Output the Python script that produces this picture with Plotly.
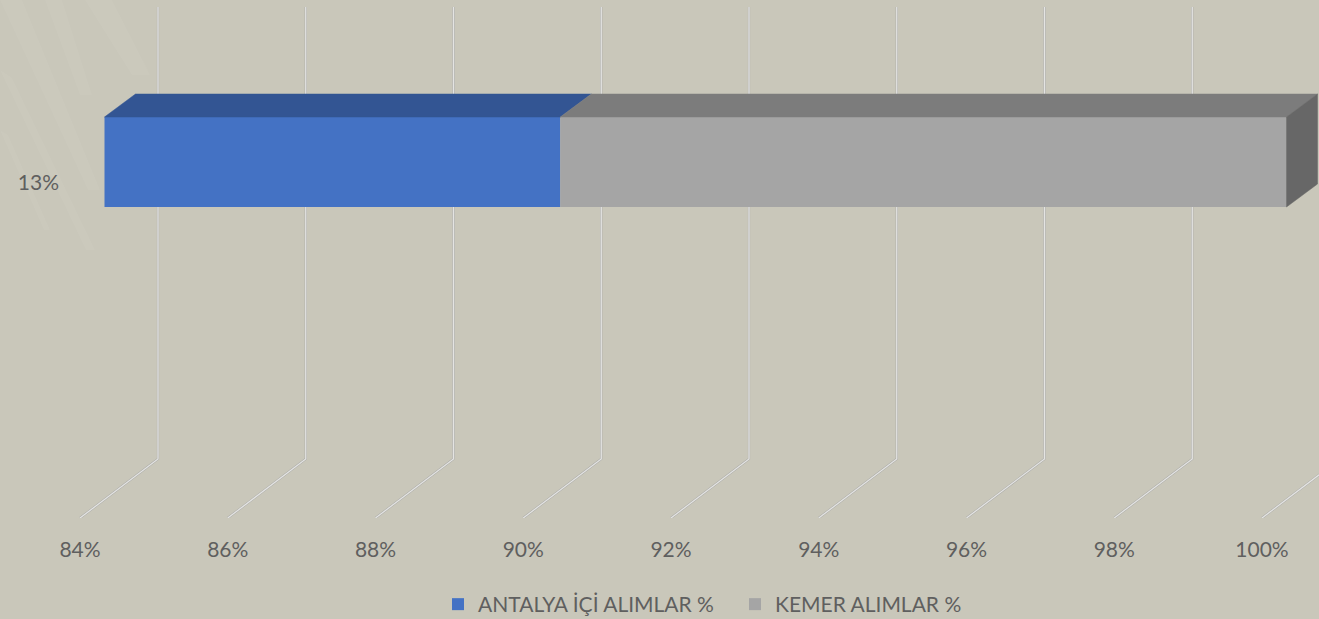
import plotly.graph_objects as go

categories = ["13%"]
series_names = ["ANTALYA İÇİ ALIMLAR %", "KEMER ALIMLAR %"]
antalya = [90.17]
kemer = [9.83]
tick_values = [84, 86, 88, 90, 92, 94, 96, 98, 100]
tick_labels = ["84%", "86%", "88%", "90%", "92%", "94%", "96%", "98%", "100%"]

W, H = 1319, 619
L, B = 60, 101
UNIT = 73.875
plot_w = W - L
plot_h = H - B
FONT = "Lato"
TEXT = "#5F5F5F"
SIZE = 21

range_main = [84 - 20 / UNIT, 84 + (W - 80) / UNIT]
range_bar = [84 - 44.5 / UNIT, 84 + (W - 104.5) / UNIT]
range_y = [-336, 182]

DEPTH_GRID_X, DEPTH_GRID_Y = 78 / UNIT, 59
GRID_TOP = 175
BAR_LOW, BAR_HIGH = -25, 65
DEPTH_BAR_X, DEPTH_BAR_Y = 31 / UNIT, 23
FLOOR = -336

fig = go.Figure()

for col, wid in (("#ABABA8", 2.2), ("#E4E4E2", 1.3)):
    gx, gy = [], []
    for v in tick_values:
        gx += [v + DEPTH_GRID_X, v + DEPTH_GRID_X, v, None]
        gy += [GRID_TOP, FLOOR + DEPTH_GRID_Y, FLOOR, None]
    fig.add_trace(go.Scatter(x=gx, y=gy, mode="lines", line=dict(color=col, width=wid),
                             showlegend=False, hoverinfo="skip", xaxis="x", yaxis="y"))

start = tick_values[0]
split = antalya[0]
end = antalya[0] + kemer[0]
cat_pos = [0]

fig.add_trace(go.Bar(y=cat_pos, x=[split - start], base=[start], orientation="h",
                     width=BAR_HIGH - BAR_LOW, offset=BAR_LOW, name=series_names[0],
                     marker=dict(color="#4472C4", line=dict(width=0)),
                     xaxis="x2", yaxis="y"))
fig.add_trace(go.Bar(y=cat_pos, x=kemer, base=antalya, orientation="h",
                     width=BAR_HIGH - BAR_LOW, offset=BAR_LOW, name=series_names[1],
                     marker=dict(color="#A5A5A5", line=dict(width=0)),
                     xaxis="x2", yaxis="y"))


def face(xs, ys, color):
    fig.add_trace(go.Scatter(x=xs, y=ys, fill="toself", fillcolor=color, mode="lines",
                             line=dict(color=color, width=0.5), showlegend=False,
                             hoverinfo="skip", xaxis="x2", yaxis="y"))


top_y = [BAR_HIGH, BAR_HIGH + DEPTH_BAR_Y, BAR_HIGH + DEPTH_BAR_Y, BAR_HIGH, BAR_HIGH]
face([start, start + DEPTH_BAR_X, split + DEPTH_BAR_X, split, start], top_y, "#335593")
face([split, split + DEPTH_BAR_X, end + DEPTH_BAR_X, end, split], top_y, "#7C7C7C")
face([end, end + DEPTH_BAR_X, end + DEPTH_BAR_X, end, end],
     [BAR_HIGH, BAR_HIGH + DEPTH_BAR_Y, BAR_LOW + DEPTH_BAR_Y, BAR_LOW, BAR_HIGH], "#676767")

streaks = [
    [(0, 0), (22, 0), (100, 190), (88, 190)],
    [(45, 0), (62, 0), (92, 95), (80, 95)],
    [(0, 70), (12, 78), (95, 250), (86, 250)],
    [(85, 0), (112, 0), (150, 75), (132, 75)],
    [(0, 130), (8, 135), (50, 230), (44, 230)],
]
shapes = []
for pts in streaks:
    path = ""
    for i, (px, py) in enumerate(pts):
        xx = (px - L) / plot_w
        yy = 1 - py / plot_h
        path += ("M" if i == 0 else "L") + f"{xx},{yy} "
    shapes.append(dict(type="path", xref="paper", yref="paper", path=path + "Z",
                       fillcolor="rgba(255,255,255,0.04)", line=dict(width=0), layer="below"))

fig.update_layout(
    width=W, height=H,
    margin=dict(l=L, r=0, t=0, b=B, pad=0, autoexpand=False),
    paper_bgcolor="#C9C7BA",
    plot_bgcolor="rgba(0,0,0,0)",
    barmode="overlay",
    font=dict(family=FONT, size=SIZE, color=TEXT),
    shapes=shapes,
    xaxis=dict(range=range_main, tickvals=tick_values, ticktext=tick_labels, showgrid=False,
               zeroline=False, showline=False, ticks="outside", ticklen=13, automargin=False,
               tickcolor="rgba(0,0,0,0)", tickfont=dict(family=FONT, size=SIZE, color=TEXT)),
    xaxis2=dict(range=range_bar, overlaying="x", visible=False, anchor="y"),
    yaxis=dict(range=range_y, tickvals=[-1], ticktext=categories, showgrid=False,
               zeroline=False, showline=False, ticks="", automargin=False,
               tickfont=dict(family=FONT, size=SIZE, color=TEXT)),
    legend=dict(orientation="h", xref="container", yref="container",
                x=438 / W, xanchor="left",
                y=1 - 584 / H, yanchor="top",
                font=dict(family=FONT, size=SIZE, color=TEXT),
                bgcolor="rgba(0,0,0,0)", entrywidth=252, entrywidthmode="pixels",
                itemclick=False, itemdoubleclick=False),
)

fig.write_html("out.html", config={"displayModeBar": False},
               post_script="document.body.style.margin='0';document.body.style.background='#C9C7BA';")
